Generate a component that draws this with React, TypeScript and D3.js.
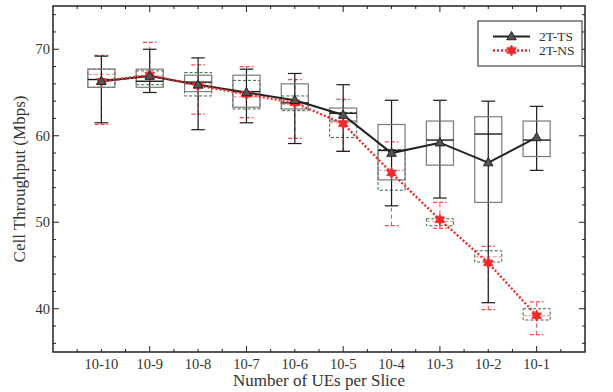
import * as d3 from 'd3';

const CATEGORIES = ['10-10', '10-9', '10-8', '10-7', '10-6', '10-5', '10-4', '10-3', '10-2', '10-1'];

// 2T-TS boxplot stats + mean
const TS_MEAN = [66.3, 66.9, 65.9, 65.0, 64.1, 62.4, 58.0, 59.2, 56.9, 59.8];
const TS_MEDIAN = [66.5, 66.3, 66.2, 65.1, 63.8, 62.6, 58.3, 59.5, 60.2, 59.5];
const TS_Q1 = [65.6, 65.6, 65.1, 63.3, 63.1, 61.7, 54.9, 56.6, 52.3, 57.6];
const TS_Q3 = [67.7, 67.7, 67.0, 67.0, 66.0, 63.2, 61.3, 61.7, 62.2, 61.7];
const TS_LOW = [61.5, 65.0, 60.7, 61.5, 59.1, 58.2, 51.9, 52.8, 40.7, 56.0];
const TS_HIGH = [69.2, 70.0, 69.0, 67.7, 67.2, 65.9, 64.1, 64.1, 64.0, 63.4];

// 2T-NS boxplot stats + mean
const NS_MEAN = [66.3, 67.0, 65.8, 64.8, 63.8, 61.4, 55.7, 50.3, 45.3, 39.2];
const NS_MEDIAN = [67.1, 66.9, 66.0, 64.5, 63.6, 61.5, 56.0, 50.1, 46.0, 39.2];
const NS_Q1 = [65.6, 65.9, 64.6, 63.1, 62.9, 59.8, 53.7, 49.6, 45.4, 38.7];
const NS_Q3 = [67.7, 67.5, 67.3, 66.4, 64.6, 62.7, 58.4, 50.4, 46.7, 40.0];
const NS_LOW = [61.3, 65.0, 62.5, 62.1, 59.7, 58.2, 49.6, 49.3, 39.9, 37.0];
const NS_HIGH = [69.3, 70.8, 68.2, 68.0, 66.5, 64.2, 59.3, 52.3, 47.2, 40.8];

const Y_TICKS = [40, 50, 60, 70];

const FONT = '"Liberation Serif", "DejaVu Serif", serif';

function hexagram(r: number) {
  const pts: [number, number][] = [];
  for (let k = 0; k < 12; k++) {
    const rad = k % 2 === 0 ? r : r / Math.sqrt(3);
    const a = (k * Math.PI) / 6 - Math.PI / 2;
    pts.push([rad * Math.cos(a), rad * Math.sin(a)]);
  }
  return 'M' + pts.map(p => p.join(',')).join('L') + 'Z';
}

function triangle(r: number) {
  return `M0,${-r}L${r * 0.95},${r * 0.65}L${-r * 0.95},${r * 0.65}Z`;
}

export default function App() {
  const W = 613;
  const H = 392;
  const left = 53, right = 585, top = 6, bottom = 352;

  const x = d3.scaleLinear().domain([0, 11]).range([left, right]);
  const y = d3.scaleLinear().domain([35, 75]).range([bottom, top]);

  const idx = CATEGORIES.map((_, i) => i);
  const boxHalf = (x(1) - x(0)) * 0.28;
  const capHalf = (x(1) - x(0)) * 0.14;

  const tsLine = d3.line<number>().x(i => x(i + 1)).y(i => y(TS_MEAN[i]));
  const nsLine = d3.line<number>().x(i => x(i + 1)).y(i => y(NS_MEAN[i]));

  const xMinor = d3.range(0.5, 11, 0.5);
  const yMinor = d3.range(36, 75, 2);

  return (
    <svg width={W} height={H} style={{ position: 'absolute', left: 0, top: 0, background: '#fff' }}>
      {/* NS boxplots */}
      {idx.map(i => {
        const cx = x(i + 1);
        return (
          <g key={`ns-${i}`}>
            <line x1={cx} x2={cx} y1={y(NS_LOW[i])} y2={y(NS_HIGH[i])} stroke="#f04a4a" strokeDasharray="4 3" strokeWidth={1} />
            <line x1={cx - capHalf} x2={cx + capHalf} y1={y(NS_HIGH[i])} y2={y(NS_HIGH[i])} stroke="#f04a4a" strokeDasharray="4 2" strokeWidth={1.2} />
            <line x1={cx - capHalf} x2={cx + capHalf} y1={y(NS_LOW[i])} y2={y(NS_LOW[i])} stroke="#f04a4a" strokeDasharray="4 2" strokeWidth={1.2} />
            <rect x={cx - boxHalf} width={boxHalf * 2} y={y(NS_Q3[i])} height={y(NS_Q1[i]) - y(NS_Q3[i])}
              fill="none" stroke="#2f6b3c" strokeDasharray="3 2" strokeWidth={1} />
            <line x1={cx - boxHalf} x2={cx + boxHalf} y1={y(NS_MEDIAN[i])} y2={y(NS_MEDIAN[i])} stroke="#f59a9a" strokeDasharray="4 2" strokeWidth={1.2} />
          </g>
        );
      })}

      {/* TS boxplots */}
      {idx.map(i => {
        const cx = x(i + 1);
        return (
          <g key={`ts-${i}`}>
            <line x1={cx} x2={cx} y1={y(TS_LOW[i])} y2={y(TS_HIGH[i])} stroke="#1a1a1a" strokeWidth={1.2} />
            <line x1={cx - capHalf} x2={cx + capHalf} y1={y(TS_HIGH[i])} y2={y(TS_HIGH[i])} stroke="#1a1a1a" strokeWidth={1.2} />
            <line x1={cx - capHalf} x2={cx + capHalf} y1={y(TS_LOW[i])} y2={y(TS_LOW[i])} stroke="#1a1a1a" strokeWidth={1.2} />
            <rect x={cx - boxHalf} width={boxHalf * 2} y={y(TS_Q3[i])} height={y(TS_Q1[i]) - y(TS_Q3[i])}
              fill="none" stroke="#7a7a7a" strokeWidth={1.2} />
            <line x1={cx - boxHalf} x2={cx + boxHalf} y1={y(TS_MEDIAN[i])} y2={y(TS_MEDIAN[i])} stroke="#1a1a1a" strokeWidth={1.4} />
          </g>
        );
      })}

      {/* Mean lines */}
      <path d={tsLine(idx) ?? ''} fill="none" stroke="#222" strokeWidth={2} />
      <path d={nsLine(idx) ?? ''} fill="none" stroke="#ee2a2a" strokeWidth={2.4} strokeDasharray="2 2" />
      {idx.map(i => (
        <path key={`nsm-${i}`} d={hexagram(5.5)} transform={`translate(${x(i + 1)},${y(NS_MEAN[i])})`}
          fill="#ee2a2a" stroke="#ee2a2a" strokeWidth={0.8} />
      ))}
      {idx.map(i => (
        <path key={`tsm-${i}`} d={triangle(5)} transform={`translate(${x(i + 1)},${y(TS_MEAN[i])})`}
          fill="#555" stroke="#222" strokeWidth={1} />
      ))}

      {/* Frame */}
      <rect x={left} y={top} width={right - left} height={bottom - top} fill="none" stroke="#222" strokeWidth={1.5} />

      {/* X ticks */}
      {xMinor.map(t => {
        const len = Number.isInteger(t) && t % 2 === 0 ? 6 : 3;
        return (
          <g key={`xt-${t}`}>
            <line x1={x(t)} x2={x(t)} y1={bottom} y2={bottom - len} stroke="#222" />
            <line x1={x(t)} x2={x(t)} y1={top} y2={top + len} stroke="#222" />
          </g>
        );
      })}
      {/* Y ticks */}
      {yMinor.map(t => {
        const len = t % 10 === 0 ? 6 : 3;
        return (
          <g key={`yt-${t}`}>
            <line x1={left} x2={left + len} y1={y(t)} y2={y(t)} stroke="#222" />
            <line x1={right} x2={right - len} y1={y(t)} y2={y(t)} stroke="#222" />
          </g>
        );
      })}

      {/* Tick labels */}
      {CATEGORIES.map((c, i) => (
        <text key={c} x={x(i + 1)} y={bottom + 17} textAnchor="middle" fontSize={14.5} fontFamily={FONT} fill="#333">
          {c}
        </text>
      ))}
      {Y_TICKS.map(t => (
        <text key={t} x={left - 3} y={y(t)} textAnchor="end" dominantBaseline="central" fontSize={14.5} fontFamily={FONT} fill="#333">
          {t}
        </text>
      ))}

      {/* Axis labels */}
      <text x={(left + right) / 2} y={386} textAnchor="middle" fontSize={17} fontFamily={FONT} fill="#333">
        Number of UEs per Slice
      </text>
      <text transform={`translate(25,${(top + bottom) / 2}) rotate(-90)`} textAnchor="middle" fontSize={17} fontFamily={FONT} fill="#333">
        Cell Throughput (Mbps)
      </text>

      {/* Legend */}
      <g>
        <rect x={478} y={21} width={104} height={45} fill="#fff" stroke="#222" strokeWidth={1} />
        <line x1={493} x2={530} y1={36.5} y2={36.5} stroke="#222" strokeWidth={2} />
        <path d={triangle(5)} transform="translate(511.5,36.5)" fill="#555" stroke="#222" strokeWidth={1} />
        <text x={539} y={36.5} dominantBaseline="central" fontSize={13.5} fontFamily={FONT} fill="#333">2T-TS</text>
        <line x1={493} x2={530} y1={50.5} y2={50.5} stroke="#ee2a2a" strokeWidth={2.4} strokeDasharray="2 2" />
        <path d={hexagram(5.5)} transform="translate(511.5,50.5)" fill="#ee2a2a" stroke="#ee2a2a" strokeWidth={0.8} />
        <text x={539} y={50.5} dominantBaseline="central" fontSize={13.5} fontFamily={FONT} fill="#333">2T-NS</text>
      </g>
    </svg>
  );
}
